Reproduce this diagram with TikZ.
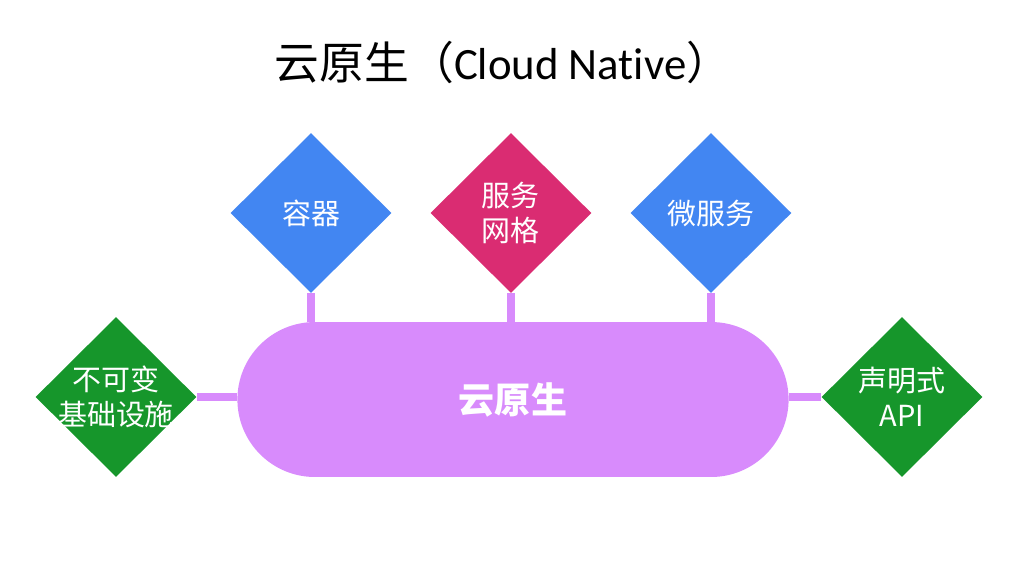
\documentclass[tikz,border=0pt]{standalone}
\usepackage{fontspec}
\setmainfont{Noto Sans CJK SC}
\newfontfamily\latinfont[Ligatures=NoCommon]{Carlito}
\usepackage{tikz}
\usetikzlibrary{positioning}
\usetikzlibrary{backgrounds}
\usetikzlibrary{shapes.geometric, shapes.misc}
\definecolor{boxblue}{HTML}{4286F2}
\definecolor{boxpink}{HTML}{DA2C72}
\definecolor{boxgreen}{HTML}{16962B}
\definecolor{corelilac}{HTML}{D88BFC}
\tikzstyle{pillar} = [diamond, aspect=1, minimum width=3.22cm, minimum height=3.2cm, inner sep=0pt, draw=none]
\tikzstyle{tag} = [text=white, align=center, font=\fontsize{16.5}{20}\selectfont]
\tikzstyle{link} = [line width=4.6pt, draw=corelilac]

\begin{document}
\begin{tikzpicture}[x=0.02cm, y=-0.02cm, node distance=4cm]
\useasboundingbox (0,0) rectangle (1024,576);
\node (title) at (503,62) {\fontsize{25.5}{30}\selectfont 云原生（{\latinfont Cloud Native}）};
\node (core) [rounded rectangle, minimum width=11.26cm, minimum height=3.1cm, fill=corelilac, text=white, font=\fontsize{20.5}{24}\selectfont\bfseries] at (513,399.5) {云原生};
\node (c1) [pillar, fill=boxblue, label={[tag]center:容器}] at (311,213) {};
\node (c2) [pillar, fill=boxpink, label={[tag]center:服务\\网格}, right of=c1] {};
\node (c3) [pillar, fill=boxblue, label={[tag]center:微服务}, right of=c2] {};
\node (lft) [pillar, fill=boxgreen, label={[tag]center:不可变\\基础设施}] at (116,397) {};
\node (rgt) [pillar, fill=boxgreen, label={[tag]center:声明式\\API}] at (902,397) {};
\begin{scope}[on background layer]
\draw [link] (c1.south) -- (c1.south |- core.north);
\draw [link] (c2.south) -- (c2.south |- core.north);
\draw [link] (c3.south) -- (c3.south |- core.north);
\draw [link] (lft.east) -- (lft.east -| core.west);
\draw [link] (rgt.west) -- (rgt.west -| core.east);
\end{scope}
\end{tikzpicture}
\end{document}
